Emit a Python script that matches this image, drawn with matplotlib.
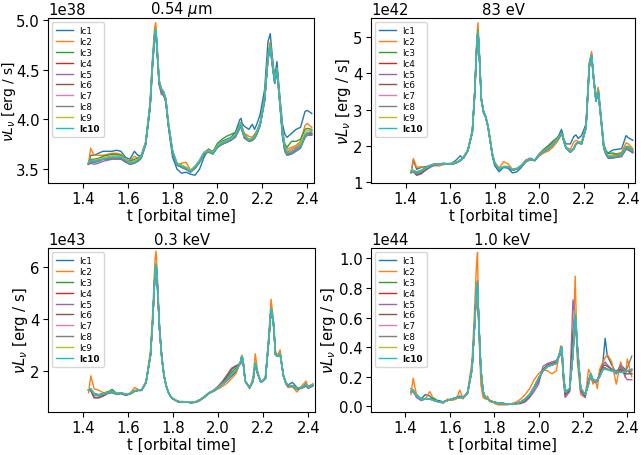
import matplotlib
matplotlib.use("Agg")
import matplotlib.pyplot as plt
import numpy as np

# shared time grid [orbital time]
t = [1.425, 1.435, 1.45, 1.47, 1.49, 1.51, 1.53, 1.55, 1.57, 1.59, 1.61,
     1.63, 1.645, 1.66, 1.68, 1.70, 1.71, 1.72, 1.725, 1.73, 1.74, 1.75,
     1.76, 1.77, 1.78, 1.79, 1.80, 1.82, 1.84, 1.86, 1.88, 1.90, 1.92,
     1.94, 1.96, 1.98, 2.00, 2.02, 2.04, 2.06, 2.08, 2.10, 2.105, 2.11,
     2.12, 2.14, 2.155, 2.165, 2.175, 2.19, 2.21, 2.225, 2.235, 2.245, 2.255,
     2.265, 2.275, 2.29, 2.30, 2.31, 2.33, 2.35, 2.37, 2.39, 2.40, 2.42]

labels = ["lc1", "lc2", "lc3", "lc4", "lc5", "lc6", "lc7", "lc8", "lc9", "lc10"]
titles = [r"0.54 $\mu$m", "83 eV", "0.3 keV", "1.0 keV"]
scales = [1e38, 1e42, 1e43, 1e44]
yticks = [[3.5, 4.0, 4.5, 5.0], [1, 2, 3, 4, 5], [2, 4, 6],
          [0.0, 0.2, 0.4, 0.6, 0.8, 1.0]]
xticks = [1.4, 1.6, 1.8, 2.0, 2.2, 2.4]

# ---------------- panel 1 : 0.54 um  (units of 1e38 erg/s) ----------------
p1_lc1 = [3.55, 3.64, 3.64, 3.66, 3.68, 3.68, 3.68, 3.69, 3.68, 3.62, 3.60,
          3.68, 3.64, 3.63, 3.76, 4.12, 4.50, 4.82, 4.88, 4.72, 4.36, 4.28,
          4.25, 4.18, 3.95, 3.78, 3.62, 3.50, 3.46, 3.47, 3.45, 3.44, 3.50,
          3.62, 3.70, 3.66, 3.74, 3.78, 3.80, 3.82, 3.87, 4.00, 4.01, 3.96,
          3.93, 3.90, 3.95, 3.90, 3.95, 4.05, 4.30, 4.78, 4.86, 4.62, 4.42,
          4.58, 4.30, 3.95, 3.85, 3.82, 3.86, 3.90, 3.92, 4.08, 4.09, 4.06]
p1_lc2 = [3.55, 3.71, 3.64, 3.64, 3.64, 3.65, 3.66, 3.66, 3.65, 3.60, 3.58,
          3.63, 3.61, 3.63, 3.77, 4.18, 4.60, 4.92, 4.97, 4.80, 4.40, 4.31,
          4.28, 4.21, 3.99, 3.83, 3.67, 3.55, 3.56, 3.57, 3.49, 3.51, 3.58,
          3.66, 3.70, 3.67, 3.74, 3.77, 3.78, 3.80, 3.84, 3.94, 3.97, 3.92,
          3.86, 3.83, 3.82, 3.85, 3.88, 3.96, 4.22, 4.65, 4.78, 4.58, 4.40,
          4.52, 4.28, 3.88, 3.75, 3.70, 3.72, 3.74, 3.78, 3.94, 3.96, 3.92]
p1_lc3 = [3.57, 3.60, 3.60, 3.61, 3.63, 3.64, 3.65, 3.65, 3.64, 3.60, 3.58,
          3.60, 3.61, 3.64, 3.77, 4.16, 4.56, 4.86, 4.91, 4.76, 4.39, 4.31,
          4.28, 4.20, 3.99, 3.83, 3.68, 3.56, 3.54, 3.52, 3.49, 3.53, 3.59,
          3.67, 3.70, 3.68, 3.76, 3.80, 3.83, 3.85, 3.87, 3.95, 3.97, 3.92,
          3.85, 3.80, 3.81, 3.84, 3.88, 3.97, 4.22, 4.64, 4.76, 4.57, 4.40,
          4.52, 4.27, 3.88, 3.75, 3.72, 3.78, 3.78, 3.80, 3.90, 3.91, 3.90]
p1_lc4 = [3.56, 3.58, 3.58, 3.59, 3.61, 3.62, 3.63, 3.63, 3.63, 3.59, 3.57,
          3.58, 3.59, 3.62, 3.76, 4.14, 4.54, 4.84, 4.89, 4.74, 4.37, 4.29,
          4.26, 4.19, 3.97, 3.82, 3.67, 3.55, 3.53, 3.51, 3.48, 3.52, 3.58,
          3.66, 3.68, 3.66, 3.73, 3.76, 3.78, 3.80, 3.84, 3.93, 3.95, 3.90,
          3.83, 3.79, 3.80, 3.82, 3.86, 3.95, 4.20, 4.62, 4.74, 4.55, 4.38,
          4.50, 4.25, 3.84, 3.70, 3.67, 3.70, 3.72, 3.76, 3.84, 3.86, 3.85]
p1_lc5 = [3.55, 3.56, 3.55, 3.56, 3.58, 3.59, 3.60, 3.60, 3.60, 3.57, 3.55,
          3.56, 3.58, 3.61, 3.74, 4.12, 4.52, 4.82, 4.87, 4.72, 4.35, 4.25,
          4.24, 4.17, 3.96, 3.81, 3.66, 3.54, 3.52, 3.50, 3.47, 3.51, 3.57,
          3.65, 3.70, 3.66, 3.72, 3.75, 3.77, 3.79, 3.82, 3.91, 3.93, 3.88,
          3.81, 3.78, 3.79, 3.81, 3.85, 3.94, 4.18, 4.60, 4.72, 4.53, 4.36,
          4.48, 4.23, 3.83, 3.68, 3.64, 3.66, 3.69, 3.72, 3.82, 3.84, 3.84]
p1_lc6 = [3.55, 3.57, 3.57, 3.58, 3.60, 3.60, 3.61, 3.61, 3.61, 3.58, 3.55,
          3.57, 3.58, 3.61, 3.75, 4.13, 4.53, 4.84, 4.89, 4.74, 4.36, 4.28,
          4.26, 4.19, 3.97, 3.82, 3.67, 3.55, 3.52, 3.50, 3.48, 3.51, 3.57,
          3.65, 3.68, 3.66, 3.72, 3.75, 3.77, 3.79, 3.83, 3.92, 3.94, 3.89,
          3.82, 3.78, 3.79, 3.81, 3.85, 3.94, 4.19, 4.61, 4.73, 4.54, 4.37,
          4.49, 4.24, 3.84, 3.70, 3.65, 3.67, 3.70, 3.73, 3.84, 3.86, 3.86]
p1_lc7 = [3.56, 3.58, 3.58, 3.59, 3.61, 3.61, 3.62, 3.62, 3.62, 3.59, 3.56,
          3.57, 3.59, 3.62, 3.76, 4.15, 4.55, 4.85, 4.90, 4.75, 4.38, 4.30,
          4.27, 4.20, 3.98, 3.83, 3.68, 3.55, 3.53, 3.51, 3.48, 3.52, 3.58,
          3.66, 3.68, 3.66, 3.73, 3.76, 3.78, 3.80, 3.84, 3.93, 3.95, 3.90,
          3.83, 3.79, 3.80, 3.82, 3.86, 3.95, 4.20, 4.62, 4.74, 4.55, 4.38,
          4.50, 4.25, 3.85, 3.71, 3.66, 3.68, 3.71, 3.74, 3.85, 3.87, 3.87]
p1_lc8 = [3.55, 3.57, 3.57, 3.58, 3.60, 3.60, 3.61, 3.61, 3.61, 3.58, 3.55,
          3.56, 3.58, 3.61, 3.75, 4.13, 4.53, 4.83, 4.88, 4.73, 4.36, 4.27,
          4.25, 4.18, 3.96, 3.81, 3.66, 3.54, 3.52, 3.50, 3.47, 3.51, 3.57,
          3.65, 3.67, 3.65, 3.72, 3.75, 3.77, 3.79, 3.83, 3.92, 3.94, 3.89,
          3.82, 3.78, 3.79, 3.81, 3.85, 3.94, 4.19, 4.60, 4.72, 4.53, 4.36,
          4.48, 4.23, 3.82, 3.68, 3.64, 3.65, 3.68, 3.71, 3.82, 3.84, 3.85]
p1_lc9 = [3.57, 3.59, 3.59, 3.60, 3.61, 3.62, 3.63, 3.63, 3.63, 3.60, 3.57,
          3.58, 3.60, 3.63, 3.77, 4.16, 4.56, 4.86, 4.91, 4.76, 4.39, 4.31,
          4.28, 4.21, 3.99, 3.84, 3.69, 3.56, 3.54, 3.52, 3.49, 3.53, 3.59,
          3.67, 3.69, 3.67, 3.74, 3.77, 3.79, 3.81, 3.85, 3.94, 3.96, 3.91,
          3.84, 3.80, 3.81, 3.83, 3.87, 3.96, 4.21, 4.63, 4.75, 4.56, 4.39,
          4.51, 4.26, 3.87, 3.73, 3.68, 3.70, 3.73, 3.76, 3.87, 3.89, 3.89]
p1_lc10 = [3.56, 3.59, 3.58, 3.59, 3.60, 3.61, 3.62, 3.62, 3.62, 3.59, 3.56,
           3.57, 3.59, 3.62, 3.76, 4.15, 4.55, 4.85, 4.90, 4.75, 4.38, 4.30,
           4.27, 4.20, 3.98, 3.83, 3.68, 3.55, 3.53, 3.51, 3.48, 3.52, 3.58,
           3.66, 3.68, 3.66, 3.73, 3.76, 3.78, 3.80, 3.84, 3.93, 3.95, 3.90,
           3.83, 3.79, 3.80, 3.82, 3.86, 3.95, 4.20, 4.62, 4.74, 4.55, 4.38,
           4.50, 4.25, 3.85, 3.72, 3.66, 3.67, 3.70, 3.73, 3.84, 3.86, 3.88]

# ---------------- panel 2 : 83 eV  (units of 1e42 erg/s) ----------------
p2_lc1 = [1.25, 1.60, 1.35, 1.40, 1.42, 1.45, 1.50, 1.48, 1.52, 1.50, 1.52,
          1.62, 1.72, 1.65, 1.86, 2.35, 3.35, 4.75, 5.10, 4.65, 3.25, 2.90,
          2.78, 2.50, 2.10, 1.70, 1.45, 1.28, 1.40, 1.38, 1.25, 1.28, 1.40,
          1.55, 1.62, 1.58, 1.72, 1.82, 1.90, 2.00, 2.18, 2.45, 2.35, 2.20,
          2.05, 2.05, 2.25, 2.30, 2.20, 2.28, 2.60, 4.30, 4.55, 3.90, 3.30,
          3.60, 3.00, 2.05, 1.85, 1.80, 1.88, 1.90, 1.92, 2.28, 2.22, 2.15]
p2_lc2 = [1.25, 1.65, 1.40, 1.42, 1.38, 1.45, 1.45, 1.44, 1.48, 1.50, 1.48,
          1.52, 1.62, 1.65, 1.90, 2.45, 3.50, 5.00, 5.40, 4.85, 3.35, 2.95,
          2.78, 2.55, 2.20, 1.80, 1.55, 1.38, 1.56, 1.50, 1.35, 1.38, 1.42,
          1.55, 1.62, 1.60, 1.72, 1.80, 1.85, 1.95, 2.10, 2.30, 2.25, 2.12,
          1.95, 1.90, 2.10, 2.15, 2.12, 2.10, 2.55, 4.30, 4.60, 3.85, 3.30,
          3.60, 2.95, 1.95, 1.80, 1.72, 1.75, 1.78, 1.82, 2.08, 2.05, 1.92]
p2_lc3 = [1.30, 1.32, 1.28, 1.32, 1.40, 1.46, 1.50, 1.50, 1.50, 1.50, 1.50,
          1.55, 1.60, 1.68, 1.88, 2.40, 3.40, 4.85, 5.20, 4.72, 3.30, 2.95,
          2.80, 2.55, 2.15, 1.75, 1.52, 1.36, 1.42, 1.42, 1.34, 1.37, 1.46,
          1.60, 1.64, 1.60, 1.78, 1.90, 2.00, 2.12, 2.22, 2.36, 2.30, 2.15,
          1.95, 1.83, 1.92, 2.05, 2.10, 2.05, 2.50, 4.20, 4.50, 3.80, 3.25,
          3.50, 2.90, 1.98, 1.85, 1.78, 1.80, 1.76, 1.78, 1.98, 1.98, 1.88]
p2_lc4 = [1.28, 1.30, 1.24, 1.29, 1.37, 1.44, 1.48, 1.50, 1.50, 1.50, 1.50,
          1.54, 1.58, 1.68, 1.88, 2.40, 3.40, 4.80, 5.15, 4.70, 3.30, 2.95,
          2.80, 2.55, 2.15, 1.75, 1.52, 1.35, 1.42, 1.42, 1.33, 1.36, 1.45,
          1.58, 1.62, 1.60, 1.76, 1.86, 1.95, 2.06, 2.17, 2.34, 2.28, 2.15,
          1.95, 1.83, 1.92, 2.05, 2.10, 2.05, 2.50, 4.20, 4.50, 3.80, 3.25,
          3.50, 2.90, 1.95, 1.78, 1.70, 1.70, 1.72, 1.74, 1.94, 1.93, 1.84]
p2_lc5 = [1.28, 1.28, 1.18, 1.22, 1.32, 1.40, 1.46, 1.48, 1.48, 1.50, 1.50,
          1.54, 1.58, 1.67, 1.87, 2.38, 3.38, 4.78, 5.12, 4.68, 3.28, 2.93,
          2.78, 2.53, 2.13, 1.74, 1.51, 1.35, 1.41, 1.41, 1.32, 1.36, 1.45,
          1.60, 1.66, 1.60, 1.76, 1.87, 1.96, 2.08, 2.18, 2.33, 2.27, 2.14,
          1.94, 1.82, 1.91, 2.04, 2.09, 2.04, 2.48, 4.18, 4.48, 3.78, 3.22,
          3.45, 2.85, 1.92, 1.75, 1.65, 1.66, 1.68, 1.70, 1.90, 1.88, 1.80]
p2_lc6 = [1.28, 1.29, 1.20, 1.24, 1.34, 1.42, 1.47, 1.49, 1.49, 1.50, 1.50,
          1.54, 1.58, 1.67, 1.87, 2.39, 3.39, 4.79, 5.14, 4.69, 3.29, 2.94,
          2.79, 2.54, 2.14, 1.74, 1.51, 1.35, 1.42, 1.42, 1.33, 1.36, 1.45,
          1.59, 1.64, 1.60, 1.75, 1.86, 1.95, 2.06, 2.17, 2.33, 2.27, 2.14,
          1.94, 1.82, 1.92, 2.05, 2.10, 2.05, 2.49, 4.19, 4.49, 3.79, 3.24,
          3.48, 2.88, 1.93, 1.77, 1.67, 1.67, 1.69, 1.72, 1.92, 1.90, 1.82]
p2_lc7 = [1.28, 1.30, 1.25, 1.30, 1.38, 1.44, 1.48, 1.50, 1.50, 1.50, 1.50,
          1.54, 1.58, 1.68, 1.88, 2.40, 3.40, 4.80, 5.15, 4.70, 3.30, 2.95,
          2.80, 2.55, 2.15, 1.75, 1.52, 1.35, 1.42, 1.42, 1.33, 1.36, 1.45,
          1.58, 1.62, 1.60, 1.75, 1.85, 1.93, 2.03, 2.16, 2.33, 2.28, 2.15,
          1.95, 1.83, 1.92, 2.05, 2.10, 2.05, 2.50, 4.20, 4.50, 3.80, 3.25,
          3.50, 2.90, 1.95, 1.79, 1.69, 1.70, 1.71, 1.74, 1.94, 1.94, 1.84]
p2_lc8 = [1.27, 1.29, 1.23, 1.28, 1.36, 1.43, 1.47, 1.49, 1.49, 1.50, 1.50,
          1.54, 1.58, 1.67, 1.87, 2.39, 3.39, 4.79, 5.14, 4.69, 3.29, 2.94,
          2.79, 2.54, 2.14, 1.74, 1.51, 1.34, 1.41, 1.41, 1.32, 1.35, 1.44,
          1.57, 1.62, 1.59, 1.74, 1.84, 1.92, 2.02, 2.15, 2.32, 2.27, 2.14,
          1.94, 1.82, 1.91, 2.04, 2.09, 2.04, 2.49, 4.19, 4.49, 3.79, 3.24,
          3.48, 2.88, 1.93, 1.77, 1.67, 1.67, 1.69, 1.72, 1.92, 1.91, 1.82]
p2_lc9 = [1.29, 1.31, 1.26, 1.31, 1.39, 1.45, 1.49, 1.50, 1.50, 1.51, 1.51,
          1.55, 1.59, 1.69, 1.89, 2.41, 3.41, 4.81, 5.16, 4.71, 3.31, 2.96,
          2.81, 2.56, 2.16, 1.76, 1.53, 1.36, 1.43, 1.43, 1.34, 1.37, 1.46,
          1.59, 1.63, 1.61, 1.76, 1.86, 1.94, 2.04, 2.17, 2.34, 2.29, 2.16,
          1.96, 1.84, 1.93, 2.06, 2.11, 2.06, 2.51, 4.21, 4.51, 3.81, 3.26,
          3.51, 2.91, 1.96, 1.81, 1.71, 1.72, 1.73, 1.76, 1.96, 1.96, 1.86]
p2_lc10 = [1.28, 1.30, 1.25, 1.30, 1.38, 1.44, 1.48, 1.50, 1.50, 1.50, 1.50,
           1.54, 1.58, 1.68, 1.88, 2.40, 3.40, 4.80, 5.15, 4.70, 3.30, 2.95,
           2.80, 2.55, 2.15, 1.75, 1.52, 1.35, 1.42, 1.42, 1.33, 1.36, 1.45,
           1.58, 1.62, 1.60, 1.75, 1.85, 1.92, 2.02, 2.15, 2.33, 2.28, 2.15,
           1.95, 1.83, 1.92, 2.05, 2.10, 2.05, 2.50, 4.20, 4.50, 3.80, 3.25,
           3.50, 2.90, 1.95, 1.80, 1.70, 1.70, 1.72, 1.75, 1.95, 1.95, 1.85]

# ---------------- panel 3 : 0.3 keV  (units of 1e43 erg/s) ----------------
p3_lc1 = [1.25, 1.30, 1.12, 1.08, 1.12, 1.18, 1.20, 1.12, 1.15, 1.08, 1.12,
          1.24, 1.25, 1.25, 1.55, 2.60, 4.00, 5.80, 6.10, 5.40, 3.60, 2.50,
          1.80, 1.40, 1.15, 1.00, 0.92, 0.82, 0.80, 0.80, 0.77, 0.78, 0.86,
          0.98, 1.14, 1.22, 1.35, 1.48, 1.62, 1.80, 1.95, 2.35, 2.55, 2.40,
          1.60, 1.35, 1.60, 2.30, 1.90, 1.55, 1.70, 3.20, 4.40, 3.90, 2.60,
          2.55, 2.70, 1.80, 1.55, 1.45, 1.55, 1.35, 1.35, 1.50, 1.40, 1.48]
p3_lc2 = [1.15, 1.80, 1.30, 1.25, 1.15, 1.18, 1.22, 1.12, 1.12, 1.05, 1.15,
          1.35, 1.28, 1.25, 1.60, 2.80, 4.30, 6.30, 6.60, 5.70, 3.80, 2.60,
          1.85, 1.45, 1.15, 1.00, 0.90, 0.80, 0.82, 0.80, 0.76, 0.78, 0.85,
          0.98, 1.12, 1.20, 1.30, 1.40, 1.52, 1.70, 1.90, 2.35, 2.60, 2.45,
          1.60, 1.30, 1.75, 2.65, 2.00, 1.55, 1.75, 3.40, 4.75, 4.00, 2.70,
          2.60, 2.80, 1.80, 1.50, 1.35, 1.38, 1.18, 1.40, 1.60, 1.35, 1.50]
p3_lc3 = [1.25, 1.28, 1.10, 1.06, 1.12, 1.18, 1.28, 1.12, 1.15, 1.08, 1.12,
          1.22, 1.25, 1.25, 1.55, 2.60, 4.00, 5.80, 6.10, 5.40, 3.60, 2.50,
          1.80, 1.40, 1.15, 1.00, 0.92, 0.82, 0.78, 0.80, 0.77, 0.80, 0.88,
          1.00, 1.15, 1.22, 1.36, 1.55, 1.72, 1.95, 2.10, 2.35, 2.55, 2.45,
          1.60, 1.35, 1.60, 2.30, 1.90, 1.55, 1.70, 3.20, 4.40, 3.90, 2.60,
          2.55, 2.65, 1.80, 1.55, 1.42, 1.42, 1.32, 1.36, 1.45, 1.36, 1.45]
p3_lc4 = [1.25, 1.28, 1.08, 1.04, 1.10, 1.15, 1.20, 1.10, 1.15, 1.08, 1.12,
          1.22, 1.25, 1.25, 1.55, 2.60, 4.00, 5.80, 6.10, 5.40, 3.60, 2.50,
          1.80, 1.40, 1.15, 1.00, 0.92, 0.82, 0.78, 0.80, 0.77, 0.80, 0.88,
          1.00, 1.15, 1.22, 1.35, 1.50, 1.65, 1.85, 2.00, 2.35, 2.55, 2.45,
          1.60, 1.35, 1.60, 2.30, 1.90, 1.55, 1.70, 3.20, 4.40, 3.90, 2.60,
          2.55, 2.65, 1.80, 1.55, 1.42, 1.42, 1.30, 1.35, 1.45, 1.35, 1.45]
p3_lc5 = [1.25, 1.22, 0.95, 0.95, 1.02, 1.12, 1.15, 1.08, 1.12, 1.05, 1.10,
          1.20, 1.24, 1.24, 1.54, 2.58, 3.98, 5.75, 6.05, 5.35, 3.58, 2.48,
          1.78, 1.40, 1.15, 1.00, 0.92, 0.82, 0.78, 0.80, 0.77, 0.80, 0.88,
          1.00, 1.15, 1.25, 1.40, 1.60, 1.85, 2.10, 2.20, 2.25, 2.55, 2.45,
          1.60, 1.35, 1.60, 2.25, 1.90, 1.55, 1.70, 3.15, 4.30, 3.85, 2.60,
          2.55, 2.65, 1.80, 1.52, 1.40, 1.40, 1.28, 1.32, 1.40, 1.32, 1.40]
p3_lc6 = [1.25, 1.24, 0.97, 0.97, 1.04, 1.13, 1.17, 1.09, 1.13, 1.06, 1.11,
          1.21, 1.24, 1.24, 1.54, 2.59, 3.99, 5.78, 6.08, 5.38, 3.59, 2.49,
          1.79, 1.40, 1.15, 1.00, 0.92, 0.82, 0.78, 0.80, 0.77, 0.80, 0.88,
          1.00, 1.15, 1.24, 1.38, 1.57, 1.80, 2.05, 2.17, 2.28, 2.55, 2.45,
          1.60, 1.35, 1.60, 2.27, 1.90, 1.55, 1.70, 3.18, 4.35, 3.88, 2.60,
          2.55, 2.65, 1.80, 1.53, 1.41, 1.41, 1.29, 1.33, 1.42, 1.33, 1.42]
p3_lc7 = [1.25, 1.29, 1.09, 1.05, 1.10, 1.15, 1.20, 1.10, 1.15, 1.08, 1.12,
          1.22, 1.25, 1.25, 1.55, 2.60, 4.00, 5.80, 6.10, 5.40, 3.60, 2.50,
          1.80, 1.40, 1.15, 1.00, 0.92, 0.82, 0.78, 0.80, 0.77, 0.80, 0.88,
          1.00, 1.15, 1.22, 1.35, 1.50, 1.66, 1.86, 2.02, 2.35, 2.55, 2.45,
          1.60, 1.35, 1.60, 2.30, 1.90, 1.55, 1.70, 3.20, 4.40, 3.90, 2.60,
          2.55, 2.65, 1.80, 1.55, 1.42, 1.42, 1.30, 1.35, 1.45, 1.35, 1.45]
p3_lc8 = [1.25, 1.28, 1.08, 1.04, 1.09, 1.14, 1.19, 1.10, 1.14, 1.07, 1.11,
          1.21, 1.24, 1.24, 1.54, 2.59, 3.99, 5.78, 6.08, 5.38, 3.59, 2.49,
          1.79, 1.40, 1.15, 1.00, 0.92, 0.82, 0.78, 0.80, 0.77, 0.80, 0.88,
          1.00, 1.15, 1.22, 1.35, 1.50, 1.66, 1.86, 2.02, 2.34, 2.54, 2.44,
          1.60, 1.35, 1.60, 2.28, 1.90, 1.55, 1.70, 3.18, 4.36, 3.88, 2.60,
          2.55, 2.64, 1.80, 1.54, 1.41, 1.41, 1.29, 1.34, 1.44, 1.34, 1.44]
p3_lc9 = [1.25, 1.30, 1.10, 1.06, 1.11, 1.16, 1.21, 1.11, 1.16, 1.09, 1.13,
          1.23, 1.26, 1.26, 1.56, 2.61, 4.01, 5.82, 6.12, 5.42, 3.61, 2.51,
          1.81, 1.41, 1.16, 1.01, 0.93, 0.83, 0.79, 0.81, 0.78, 0.81, 0.89,
          1.01, 1.16, 1.23, 1.36, 1.51, 1.66, 1.86, 2.01, 2.36, 2.56, 2.46,
          1.61, 1.36, 1.61, 2.31, 1.91, 1.56, 1.71, 3.21, 4.41, 3.91, 2.61,
          2.56, 2.66, 1.81, 1.56, 1.43, 1.43, 1.31, 1.36, 1.46, 1.36, 1.46]
p3_lc10 = [1.25, 1.30, 1.10, 1.05, 1.10, 1.15, 1.20, 1.10, 1.15, 1.08, 1.12,
           1.22, 1.25, 1.25, 1.55, 2.60, 4.00, 5.80, 6.10, 5.40, 3.60, 2.50,
           1.80, 1.40, 1.15, 1.00, 0.92, 0.82, 0.78, 0.80, 0.77, 0.80, 0.88,
           1.00, 1.15, 1.22, 1.35, 1.50, 1.65, 1.85, 2.00, 2.35, 2.55, 2.45,
           1.60, 1.35, 1.60, 2.30, 1.90, 1.55, 1.70, 3.20, 4.40, 3.90, 2.60,
           2.55, 2.65, 1.80, 1.55, 1.42, 1.42, 1.30, 1.35, 1.45, 1.35, 1.45]

# ---------------- panel 4 : 1.0 keV  (units of 1e44 erg/s) ----------------
p4_lc1 = [0.12, 0.10, 0.08, 0.05, 0.08, 0.07, 0.04, 0.04, 0.03, 0.04, 0.05,
          0.06, 0.07, 0.06, 0.09, 0.25, 0.50, 0.80, 0.85, 0.58, 0.22, 0.08,
          0.06, 0.05, 0.04, 0.03, 0.03, 0.02, 0.02, 0.015, 0.015, 0.02, 0.03,
          0.05, 0.08, 0.13, 0.19, 0.24, 0.27, 0.28, 0.30, 0.38, 0.40, 0.25,
          0.10, 0.12, 0.36, 0.63, 0.40, 0.10, 0.08, 0.18, 0.20, 0.16, 0.17,
          0.18, 0.22, 0.30, 0.46, 0.34, 0.28, 0.22, 0.28, 0.25, 0.24, 0.22]
p4_lc2 = [0.08, 0.19, 0.08, 0.04, 0.05, 0.10, 0.04, 0.03, 0.02, 0.05, 0.04,
          0.05, 0.11, 0.05, 0.10, 0.30, 0.60, 0.95, 1.04, 0.55, 0.15, 0.06,
          0.05, 0.07, 0.03, 0.04, 0.02, 0.01, 0.01, 0.01, 0.02, 0.03, 0.05,
          0.08, 0.12, 0.18, 0.22, 0.25, 0.24, 0.22, 0.24, 0.41, 0.38, 0.20,
          0.07, 0.10, 0.40, 0.88, 0.30, 0.08, 0.06, 0.25, 0.22, 0.15, 0.18,
          0.12, 0.25, 0.30, 0.33, 0.35, 0.30, 0.15, 0.30, 0.20, 0.32, 0.20]
p4_lc3 = [0.10, 0.11, 0.07, 0.05, 0.05, 0.05, 0.055, 0.03, 0.03, 0.04, 0.05,
          0.06, 0.06, 0.06, 0.09, 0.25, 0.50, 0.78, 0.83, 0.60, 0.25, 0.10,
          0.06, 0.05, 0.04, 0.03, 0.03, 0.02, 0.02, 0.015, 0.015, 0.02, 0.03,
          0.05, 0.08, 0.13, 0.19, 0.24, 0.27, 0.28, 0.29, 0.38, 0.40, 0.25,
          0.10, 0.12, 0.35, 0.62, 0.40, 0.12, 0.08, 0.15, 0.22, 0.18, 0.17,
          0.18, 0.20, 0.25, 0.25, 0.25, 0.24, 0.23, 0.23, 0.23, 0.24, 0.25]
p4_lc4 = [0.10, 0.11, 0.07, 0.05, 0.05, 0.05, 0.04, 0.03, 0.03, 0.04, 0.05,
          0.06, 0.06, 0.06, 0.09, 0.25, 0.50, 0.78, 0.83, 0.60, 0.25, 0.10,
          0.06, 0.05, 0.04, 0.03, 0.03, 0.02, 0.02, 0.015, 0.015, 0.02, 0.03,
          0.05, 0.08, 0.13, 0.19, 0.24, 0.27, 0.28, 0.29, 0.38, 0.40, 0.25,
          0.10, 0.12, 0.35, 0.64, 0.40, 0.12, 0.08, 0.15, 0.22, 0.18, 0.17,
          0.18, 0.20, 0.26, 0.26, 0.25, 0.24, 0.23, 0.24, 0.23, 0.24, 0.24]
p4_lc5 = [0.10, 0.10, 0.06, 0.04, 0.05, 0.05, 0.04, 0.03, 0.03, 0.04, 0.05,
          0.06, 0.06, 0.06, 0.09, 0.25, 0.50, 0.78, 0.83, 0.60, 0.25, 0.10,
          0.06, 0.05, 0.04, 0.03, 0.03, 0.02, 0.02, 0.015, 0.015, 0.015, 0.02,
          0.03, 0.06, 0.10, 0.15, 0.27, 0.29, 0.30, 0.31, 0.35, 0.38, 0.22,
          0.06, 0.10, 0.72, 0.60, 0.35, 0.10, 0.06, 0.18, 0.22, 0.18, 0.16,
          0.17, 0.22, 0.28, 0.30, 0.28, 0.25, 0.22, 0.28, 0.20, 0.18, 0.18]
p4_lc6 = [0.10, 0.10, 0.07, 0.05, 0.05, 0.05, 0.04, 0.03, 0.03, 0.04, 0.05,
          0.06, 0.06, 0.06, 0.09, 0.25, 0.50, 0.78, 0.83, 0.60, 0.25, 0.10,
          0.06, 0.05, 0.04, 0.03, 0.03, 0.02, 0.02, 0.015, 0.015, 0.02, 0.02,
          0.04, 0.07, 0.12, 0.17, 0.25, 0.28, 0.29, 0.30, 0.37, 0.39, 0.24,
          0.08, 0.11, 0.50, 0.62, 0.38, 0.11, 0.07, 0.16, 0.22, 0.18, 0.17,
          0.18, 0.21, 0.27, 0.28, 0.27, 0.25, 0.23, 0.25, 0.22, 0.22, 0.22]
p4_lc7 = [0.10, 0.11, 0.07, 0.05, 0.05, 0.05, 0.04, 0.03, 0.03, 0.04, 0.05,
          0.06, 0.06, 0.06, 0.09, 0.25, 0.50, 0.78, 0.83, 0.60, 0.25, 0.10,
          0.06, 0.05, 0.04, 0.03, 0.03, 0.02, 0.02, 0.015, 0.015, 0.02, 0.03,
          0.05, 0.08, 0.13, 0.19, 0.24, 0.27, 0.28, 0.29, 0.38, 0.40, 0.25,
          0.10, 0.12, 0.35, 0.65, 0.40, 0.12, 0.08, 0.15, 0.22, 0.18, 0.17,
          0.18, 0.20, 0.25, 0.25, 0.25, 0.24, 0.23, 0.23, 0.23, 0.24, 0.25]
p4_lc8 = [0.10, 0.11, 0.07, 0.05, 0.05, 0.05, 0.04, 0.03, 0.03, 0.04, 0.05,
          0.06, 0.06, 0.06, 0.09, 0.25, 0.50, 0.78, 0.83, 0.60, 0.25, 0.10,
          0.06, 0.05, 0.04, 0.03, 0.03, 0.02, 0.02, 0.015, 0.015, 0.02, 0.03,
          0.05, 0.08, 0.13, 0.19, 0.24, 0.27, 0.28, 0.29, 0.38, 0.40, 0.25,
          0.10, 0.12, 0.35, 0.63, 0.40, 0.12, 0.08, 0.15, 0.21, 0.18, 0.17,
          0.18, 0.20, 0.25, 0.26, 0.25, 0.25, 0.24, 0.26, 0.24, 0.26, 0.34]
p4_lc9 = [0.10, 0.11, 0.07, 0.05, 0.05, 0.05, 0.04, 0.03, 0.03, 0.04, 0.05,
          0.06, 0.06, 0.06, 0.09, 0.25, 0.50, 0.78, 0.83, 0.60, 0.25, 0.10,
          0.06, 0.05, 0.04, 0.03, 0.03, 0.02, 0.02, 0.015, 0.015, 0.02, 0.03,
          0.05, 0.08, 0.13, 0.19, 0.24, 0.27, 0.28, 0.29, 0.38, 0.40, 0.25,
          0.10, 0.12, 0.35, 0.65, 0.40, 0.12, 0.08, 0.15, 0.22, 0.18, 0.17,
          0.18, 0.20, 0.25, 0.25, 0.25, 0.24, 0.23, 0.23, 0.23, 0.24, 0.25]
p4_lc10 = [0.10, 0.11, 0.07, 0.05, 0.05, 0.05, 0.04, 0.03, 0.03, 0.04, 0.05,
           0.06, 0.06, 0.06, 0.09, 0.25, 0.50, 0.78, 0.83, 0.60, 0.25, 0.10,
           0.06, 0.05, 0.04, 0.03, 0.03, 0.02, 0.02, 0.015, 0.015, 0.02, 0.03,
           0.05, 0.08, 0.13, 0.19, 0.24, 0.27, 0.28, 0.29, 0.38, 0.40, 0.25,
           0.10, 0.12, 0.35, 0.62, 0.40, 0.12, 0.08, 0.15, 0.22, 0.18, 0.17,
           0.18, 0.20, 0.25, 0.25, 0.25, 0.24, 0.23, 0.23, 0.23, 0.24, 0.25]

panels = [
    [p1_lc1, p1_lc2, p1_lc3, p1_lc4, p1_lc5, p1_lc6, p1_lc7, p1_lc8, p1_lc9, p1_lc10],
    [p2_lc1, p2_lc2, p2_lc3, p2_lc4, p2_lc5, p2_lc6, p2_lc7, p2_lc8, p2_lc9, p2_lc10],
    [p3_lc1, p3_lc2, p3_lc3, p3_lc4, p3_lc5, p3_lc6, p3_lc7, p3_lc8, p3_lc9, p3_lc10],
    [p4_lc1, p4_lc2, p4_lc3, p4_lc4, p4_lc5, p4_lc6, p4_lc7, p4_lc8, p4_lc9, p4_lc10],
]
ylims = [(3.362, 5.017), (0.97, 5.53), (0.41, 6.72), (-0.038, 1.07)]

W, H = 641, 456
fig = plt.figure(figsize=(W / 100, H / 100), dpi=100)
boxes = [(48, 19, 314, 184), (371, 19, 635, 184),
         (48, 249, 315, 413), (371, 249, 634, 413)]
ylabel_x = [-0.112, -0.067, -0.066, -0.127]
ylabel_fs = [10.0, 10.7, 10.7, 10.7]

FS = 10.7
for k in range(4):
    x0, y0, x1, y1 = boxes[k]
    ax = fig.add_axes([x0 / W, 1 - y1 / H, (x1 - x0) / W, (y1 - y0) / H])
    for i, series in enumerate(panels[k]):
        assert len(series) == len(t)
        ax.plot(t, np.array(series) * scales[k], lw=1.0, label=labels[i],
                color="C%d" % i)
    ax.set_xlim(1.245, 2.43)
    ax.set_ylim(ylims[k][0] * scales[k], ylims[k][1] * scales[k])
    ax.set_xticks(xticks)
    ax.set_yticks([v * scales[k] for v in yticks[k]])
    ax.tick_params(labelsize=FS, pad=2.5)
    ax.yaxis.get_offset_text().set_fontsize(FS)
    ax.set_xlabel("t [orbital time]", fontsize=FS, labelpad=1)
    ax.set_ylabel(r"$\nu L_\nu$ [erg / s]", fontsize=ylabel_fs[k])
    ax.yaxis.set_label_coords(ylabel_x[k], 0.5)
    ax.set_title(titles[k], fontsize=FS, pad=3)
    leg = ax.legend(loc="upper left", fontsize=6.3, handlelength=2.0,
                    labelspacing=0.22, borderpad=0.4, handletextpad=0.7)
    leg.get_texts()[-1].set_fontweight("bold")

fig.savefig("out.png", dpi=100)
